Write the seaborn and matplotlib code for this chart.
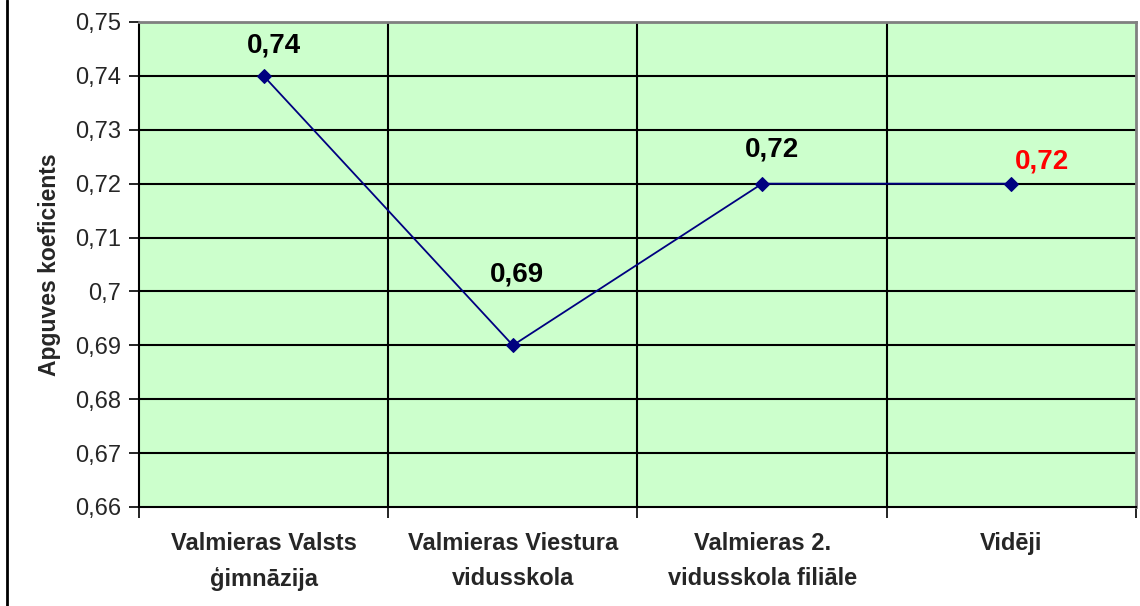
import pandas as pd
import matplotlib.pyplot as plt
import seaborn as sns
from matplotlib.lines import Line2D


schools = ['Valmieras Valsts\nģimnāzija', 'Valmieras Viestura\nvidusskola',
           'Valmieras 2.\nvidusskola filiāle', 'Vidēji']
coef = [0.74, 0.69, 0.72, 0.72]
coef_labels = ['0,74', '0,69', '0,72', '0,72']
y_ticks = [0.66, 0.67, 0.68, 0.69, 0.70, 0.71, 0.72, 0.73, 0.74, 0.75]
y_tick_labels = ['0,66', '0,67', '0,68', '0,69', '0,7', '0,71', '0,72', '0,73', '0,74', '0,75']

data = pd.DataFrame({'school': range(len(schools)), 'coef': coef})

sns.set_style('white')
plt.rcParams['font.family'] = ['Liberation Sans', 'DejaVu Sans']

fig = plt.figure(figsize=(11.4, 6.06), dpi=100)
ax = fig.add_axes([0.1219, 0.1634, 0.8746, 0.8003])
ax.set_facecolor('#CCFFCC')

sns.lineplot(x='school', y='coef', data=data, ax=ax, color='#000080',
             linewidth=1.3, marker='D', markersize=7, markeredgecolor='#000080')

ax.set_xlim(-0.5, len(schools) - 0.5)
ax.set_ylim(0.66, 0.75)
ax.set_yticks(y_ticks)
ax.set_yticklabels(y_tick_labels, fontsize=17)
for y in y_ticks[1:]:
    ax.axhline(y, color='black', linewidth=1.5, zorder=1)
for x in [0.5, 1.5, 2.5]:
    ax.axvline(x, color='black', linewidth=1.5, zorder=1)

ax.set_xticks(range(len(schools)))
ax.set_xticklabels(schools, fontsize=17, fontweight='bold', linespacing=1.65)
ax.set_xticks([-0.5, 0.5, 1.5, 2.5, 3.5], minor=True)
ax.tick_params(axis='x', which='major', bottom=False, length=0, pad=18)
ax.tick_params(axis='x', which='minor', bottom=True, length=8, width=1.2,
               direction='out', color='black')
ax.tick_params(axis='y', left=True, length=7, width=1.2, direction='out',
               color='black', pad=6)

ax.set_xlabel('')
ax.set_ylabel('Apguves koeficients', fontsize=16.5, fontweight='bold', labelpad=10)

for sp in ['left', 'bottom']:
    ax.spines[sp].set_color('black')
    ax.spines[sp].set_linewidth(1.5)
for sp in ['top', 'right']:
    ax.spines[sp].set_color('#808080')
    ax.spines[sp].set_linewidth(2)

offsets = [(10, 30), (4, 71), (10, 34), (31, 22)]
colors = ['black', 'black', 'black', 'red']
for i, (lab, val) in enumerate(zip(coef_labels, coef)):
    ax.annotate(lab, (i, val), xytext=offsets[i], textcoords='offset pixels',
                ha='center', va='center', fontsize=20, fontweight='bold', color=colors[i])

fig.add_artist(Line2D([0.0065, 0.0065], [0, 1], color='black', linewidth=2,
                      transform=fig.transFigure))

fig.savefig('out.png', dpi=100)
